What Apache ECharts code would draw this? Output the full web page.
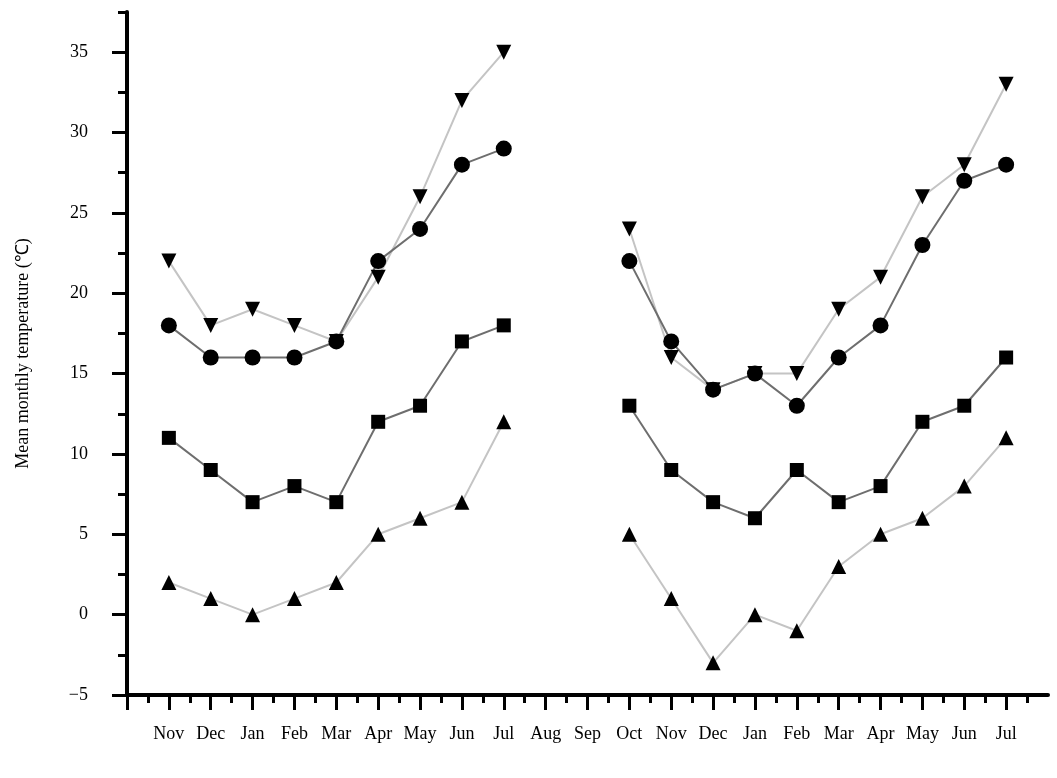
<!DOCTYPE html>
<html>
<head>
<meta charset="utf-8">
<script src="https://cdn.jsdelivr.net/npm/echarts@6/dist/echarts.min.js"></script>
<style>
  html, body { margin: 0; padding: 0; background: #fff; }
  #chart { width: 1057px; height: 778px; }
</style>
</head>
<body>
<div id="chart"></div>
<script>
// month categories along the bottom (two seasons, Aug/Sep have no data)
var months = ['Nov','Dec','Jan','Feb','Mar','Apr','May','Jun','Jul','Aug','Sep','Oct','Nov','Dec','Jan','Feb','Mar','Apr','May','Jun','Jul'];
var yTicks = [-5, 0, 5, 10, 15, 20, 25, 30, 35];

// mean monthly temperature
var tempDown   = [22, 18, 19, 18, 17, 21, 26, 32, 35, null, null, 24, 16, 14, 15, 15, 19, 21, 26, 28, 33];
var tempCircle = [18, 16, 16, 16, 17, 22, 24, 28, 29, null, null, 22, 17, 14, 15, 13, 16, 18, 23, 27, 28];
var tempSquare = [11,  9,  7,  8,  7, 12, 13, 17, 18, null, null, 13,  9,  7,  6,  9,  7,  8, 12, 13, 16];
var tempUp     = [ 2,  1,  0,  1,  2,  5,  6,  7, 12, null, null,  5,  1, -3,  0, -1,  3,  5,  6,  8, 11];

var font = "'Liberation Serif', 'Times New Roman', serif";
var xMajor = [-1].concat(months.map(function(m, i){ return i; }));
var xLabels = months.map(function(m, i){ return i; });

function toPoints(arr){
  return arr.map(function(v, i){ return [i, v == null ? '-' : v]; });
}

function mkSeries(arr, symbol, rotate, lineColor, size){
  return {
    type: 'line',
    data: toPoints(arr),
    symbol: symbol,
    symbolRotate: rotate,
    symbolSize: size,
    showAllSymbol: true,
    connectNulls: false,
    lineStyle: { color: lineColor, width: 2 },
    itemStyle: { color: '#000', borderWidth: 0 },
    emphasis: { disabled: true },
    animation: false
  };
}

var chart = echarts.init(document.getElementById('chart'));
var option = {
  backgroundColor: '#fff',
  grid: { left: 127, right: 9, top: 12, bottom: 83 },
  xAxis: {
    type: 'value',
    min: -1,
    max: 21,
    interval: 1,
    splitLine: { show: false },
    axisLine: { show: true, onZero: false, lineStyle: { color: '#000', width: 4 } },
    axisTick: { show: true, customValues: xMajor, length: 15, lineStyle: { color: '#000', width: 3 } },
    minorTick: { show: true, splitNumber: 2, length: 8, lineStyle: { color: '#000', width: 3 } },
    axisLabel: {
      customValues: xLabels,
      margin: 30,
      color: '#000',
      fontFamily: font,
      fontSize: 18,
      formatter: function(v){ return months[v] || ''; }
    }
  },
  yAxis: [{
    type: 'value',
    min: -5,
    max: 37.5,
    interval: 2.5,
    name: 'Mean monthly temperature (\u2103)',
    nameLocation: 'middle',
    nameGap: 95,
    nameTextStyle: { color: '#000', fontFamily: font, fontSize: 18 },
    splitLine: { show: false },
    axisLine: { show: true, onZero: false, lineStyle: { color: '#000', width: 4 } },
    axisTick: { show: true, length: 9, lineStyle: { color: '#000', width: 3 } },
    axisLabel: {
      customValues: yTicks,
      margin: 39,
      color: '#000',
      fontFamily: font,
      fontSize: 18,
      formatter: function(v){ return v < 0 ? '\u2212' + Math.abs(v) : String(v); }
    }
  }, {
    type: 'value',
    position: 'left',
    offset: 0,
    min: -5,
    max: 37.5,
    interval: 2.5,
    splitLine: { show: false },
    axisLine: { show: false, onZero: false },
    axisTick: { show: true, customValues: yTicks, length: 15, lineStyle: { color: '#000', width: 3 } },
    axisLabel: { show: false }
  }],
  series: [
    mkSeries(tempDown, 'triangle', 180, '#c4c4c4', 15),
    mkSeries(tempUp, 'triangle', 0, '#c4c4c4', 15),
    mkSeries(tempSquare, 'rect', 0, '#6e6e6e', 14),
    mkSeries(tempCircle, 'circle', 0, '#6e6e6e', 16)
  ]
};
chart.setOption(option);
</script>
</body>
</html>
